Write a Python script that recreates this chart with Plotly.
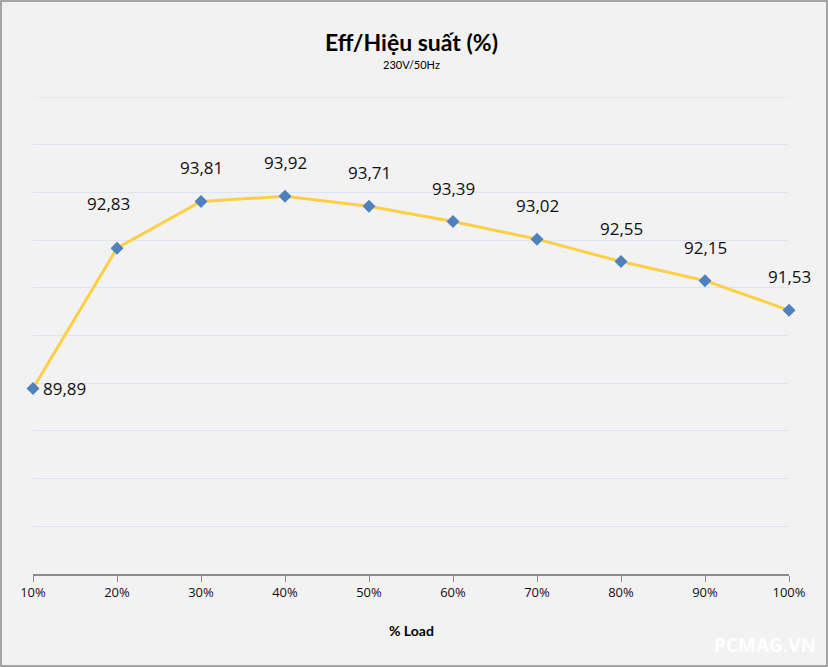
import plotly.graph_objects as go

loads = [10, 20, 30, 40, 50, 60, 70, 80, 90, 100]
tick_labels = ["10%", "20%", "30%", "40%", "50%", "60%", "70%", "80%", "90%", "100%"]
efficiency = [89.89, 92.83, 93.81, 93.92, 93.71, 93.39, 93.02, 92.55, 92.15, 91.53]

W, H = 828, 667
ML, MR, MT, MB = 33, 39, 97, 93
pw, ph = W - ML - MR, H - MT - MB

fig = go.Figure()
fig.add_trace(go.Scatter(
    x=loads, y=efficiency, mode="lines+markers",
    line=dict(color="#FDCF45", width=3),
    marker=dict(symbol="diamond", size=10, color="#4F81BD"),
    cliponaxis=False, hoverinfo="skip"))

font_lbl = dict(family="Open Sans, Noto Sans, sans-serif", size=17, color="#111111")
for i, (x, y) in enumerate(zip(loads, efficiency)):
    lbl = f"{y:.2f}".replace(".", ",")
    if i == 0:
        fig.add_annotation(x=x, y=y, text=lbl, showarrow=False, xanchor="left",
                           yanchor="middle", xshift=8, font=font_lbl)
    elif i == 1:
        fig.add_annotation(x=x, y=y, text=lbl, showarrow=False, xanchor="center",
                           yanchor="bottom", yshift=31, xshift=-9, font=font_lbl)
    else:
        fig.add_annotation(x=x, y=y, text=lbl, showarrow=False, xanchor="center",
                           yanchor="bottom", yshift=20, font=font_lbl)

def py(pix):
    return (H - MB - pix) / ph

def px(pix):
    return (pix - ML) / pw

fig.add_annotation(x=0.5, y=py(42), xref="paper", yref="paper", xanchor="center",
                   yanchor="middle", text="<b>Eff/Hiệu suất (%)</b>", showarrow=False,
                   font=dict(family="Lato, Open Sans, sans-serif", size=23, color="#000"))
fig.add_annotation(x=0.5, y=py(65), xref="paper", yref="paper", xanchor="center",
                   yanchor="middle", text="230V/50Hz", showarrow=False,
                   font=dict(family="Lato, Open Sans, sans-serif", size=11, color="#000"))
fig.add_annotation(x=0.5, y=py(630), xref="paper", yref="paper", xanchor="center",
                   yanchor="middle", text="<b>% Load</b>", showarrow=False,
                   font=dict(family="Lato, Open Sans, sans-serif", size=14, color="#000"))
fig.add_annotation(x=px(765), y=py(645), xref="paper", yref="paper", xanchor="center",
                   yanchor="middle", text="<b>PCMAG.VN</b>", showarrow=False,
                   font=dict(family="Open Sans, sans-serif", size=19, color="#FFFFFF"))

fig.add_shape(type="rect", xref="paper", yref="paper",
              x0=px(1), x1=px(W - 1), y0=py(H - 1), y1=py(1),
              line=dict(color="#8C8C8C", width=1.5), layer="below")
fig.add_shape(type="line", xref="paper", yref="y", x0=0, x1=1, y0=96, y1=96,
              line=dict(color="#DCE6F2", width=1), layer="below")

fig.update_layout(
    width=W, height=H, margin=dict(l=ML, r=MR, t=MT, b=MB),
    paper_bgcolor="#F2F2F2", plot_bgcolor="#F2F2F2", showlegend=False,
    xaxis=dict(range=[10, 100], tickvals=loads, ticktext=tick_labels,
               showgrid=False, zeroline=False, showline=True, linecolor="#8C8C8C",
               linewidth=1.5, ticks="outside", ticklen=6, tickcolor="#8C8C8C",
               tickfont=dict(family="Open Sans, Noto Sans, sans-serif", size=13, color="#111")),
    yaxis=dict(range=[86, 96], dtick=1, showgrid=True, gridcolor="#DCE6F2",
               zeroline=False, showticklabels=False, showline=False),
)
fig.write_html("out.html", config={"displayModeBar": False},
               post_script="document.body.style.margin='0';")
